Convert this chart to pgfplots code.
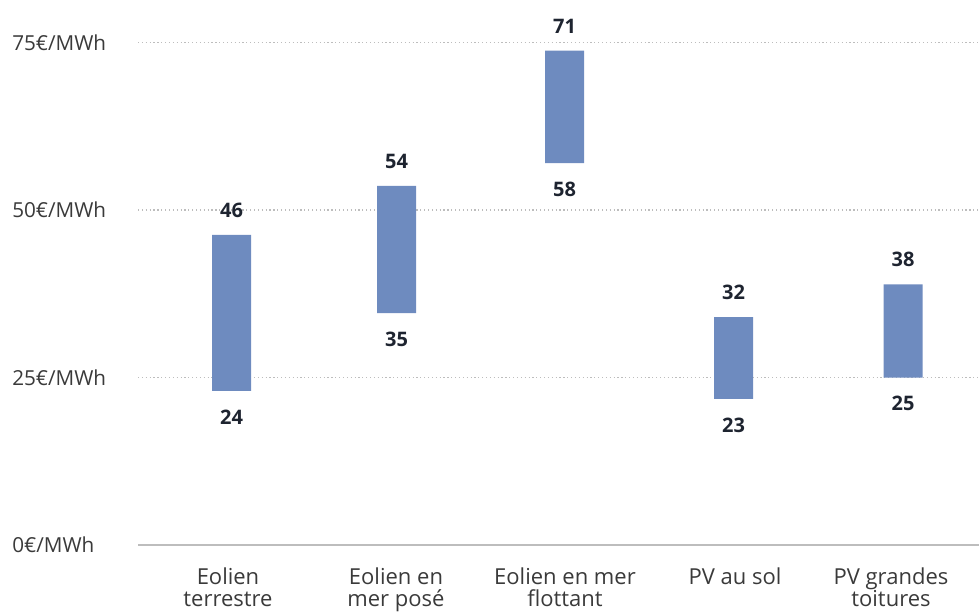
\documentclass[border=0pt]{standalone}
\usepackage{pgfplots}
\pgfplotsset{compat=1.18}
\usepackage{pgfplotstable}
\usepackage{fontspec}
\setmainfont{Open Sans}
\definecolor{barblue}{HTML}{6E8BBF}
\definecolor{labnavy}{HTML}{1E2430}
\definecolor{ticktxt}{HTML}{3A3A3A}
\definecolor{gridc}{HTML}{BDBDBD}
% x in image pixels (centre of each bar), y in EUR/MWh
\pgfplotstableread{
x     low   diff  high  lo  hi
231.5 23.0  23.3  46.3  24  46
396.5 34.6  19.0  53.6  35  54
564.5 57.0  16.8  73.8  58  71
733.5 21.8  12.2  34.0  23  32
903.0 25.0  13.9  38.9  25  38
}\data
\pgfplotsset{common/.style={
  at={(103.5pt,50.25pt)}, anchor=south west,
  scale only axis, width=630.75pt, height=402pt,
  xmin=138, xmax=979, ymin=0, ymax=80, clip=false}}
\begin{document}
\begin{tikzpicture}
\path[use as bounding box] (0,0) rectangle (734.25pt,459pt);
\begin{axis}[
  common,
  ybar stacked, bar width=29.25pt,
  axis lines*=left,
  x axis line style={draw=gridc, line width=0.9pt, -},
  y axis line style={draw=none},
  major tick length=0pt,
  ytick={0,25,50,75},
  yticklabels={0€/MWh,25€/MWh,50€/MWh,75€/MWh},
  yticklabel style={anchor=west, inner sep=0pt, xshift=-94.5pt,
    font=\fontsize{15.5}{17}\selectfont, text=ticktxt},
  ymajorgrids,
  grid style={draw=gridc, line width=0.8pt, dash pattern=on 0.9pt off 2pt},
  xtick={228,396,565,735,891},
  xticklabels={Eolien\\terrestre, Eolien en\\mer posé, Eolien en mer\\flottant, PV au sol, PV grandes\\toitures},
  xticklabel style={anchor=north, align=center, inner sep=0pt, yshift=-17pt,
    font=\fontsize{16.5}{16.5}\selectfont, text=ticktxt},
]
\addplot[draw=none, fill=none] table[x=x, y=low] {\data};
\addplot[draw=none, fill=barblue] table[x=x, y=diff] {\data};
\end{axis}
\begin{axis}[common, hide axis]
\addplot[draw=none, mark=none,
  nodes near coords, point meta=explicit symbolic,
  nodes near coords style={anchor=center, yshift=18.5pt, text=labnavy,
    font=\fontsize{15}{16}\selectfont\bfseries}]
  table[x=x, y=high, meta=hi] {\data};
\addplot[draw=none, mark=none,
  nodes near coords, point meta=explicit symbolic,
  nodes near coords style={anchor=center, yshift=-19.5pt, text=labnavy,
    font=\fontsize{15}{16}\selectfont\bfseries}]
  table[x=x, y=low, meta=lo] {\data};
\end{axis}
\end{tikzpicture}
\end{document}
